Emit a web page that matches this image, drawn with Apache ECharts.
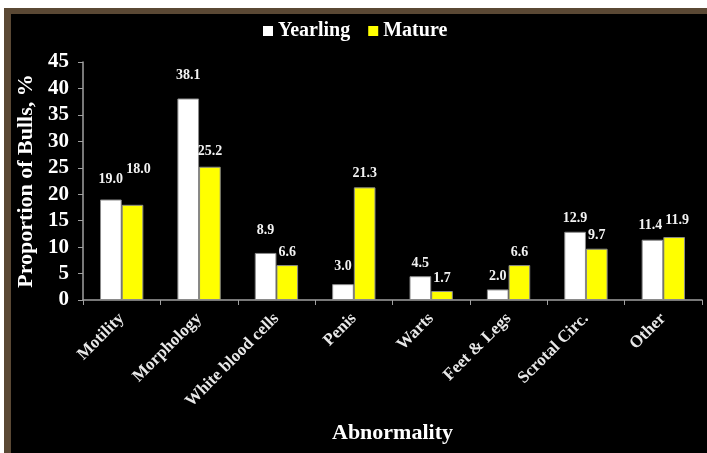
<!DOCTYPE html>
<html><head><meta charset="utf-8">
<script src="https://cdn.jsdelivr.net/npm/echarts@6/dist/echarts.min.js"></script>
<style>
html,body{margin:0;padding:0;background:#fff;}
#bg{position:absolute;left:4px;top:8px;width:703px;height:445px;background:#000;border-left:7px solid #5a4834;border-top:6px solid #5a4834;box-sizing:border-box;}
#chart{position:absolute;left:0;top:0;width:707px;height:453px;}
</style></head>
<body>
<div id="bg"></div>
<div id="chart"></div>
<script>
const categories = ['Motility','Morphology','White blood cells','Penis','Warts','Feet & Legs','Scrotal Circ.','Other'];
const yearling = [19.0, 38.1, 8.9, 3.0, 4.5, 2.0, 12.9, 11.4];
const mature = [18.0, 25.2, 6.6, 21.3, 1.7, 6.6, 9.7, 11.9];
const yTicks = [0, 5, 10, 15, 20, 25, 30, 35, 40, 45];

// label placement tweaks (style only, separate from the values)
const yearlingLabelGap = [13, 16, 16, 11, 6, 6, 6, 7];
const matureLabelGap = [28, 8, 6, 7, 6, 6, 6, 10];
const yearlingLabelShift = [0, 0, 0, 0, 0, 0, 0, -2];
const matureLabelShift = [6, 0, 0, 0, 0, 0, 0, 3];

const font = '"Liberation Serif", "DejaVu Serif", serif';
const chart = echarts.init(document.getElementById('chart'), null, {renderer:'canvas'});
const baseLabel = {show:true, position:'top', color:'#f2f2f2', fontFamily:font, fontWeight:'bold', fontSize:14,
  formatter: p => p.value.toFixed(1)};
function build(vals, gaps, shifts) {
  return vals.map((v, i) => ({value: v, label: {distance: gaps[i], offset: [shifts[i], 0]}}));
}
chart.setOption({
  backgroundColor:'transparent',
  animation:false,
  legend:{
    top:16, left:258, itemWidth:10, itemHeight:10, itemGap:18,
    icon:'rect',
    itemStyle:{borderWidth:0},
    textStyle:{color:'#fff', fontFamily:font, fontWeight:'bold', fontSize:20},
    data:['Yearling','Mature']
  },
  grid:{left:83, right:5, top:62, bottom:153},
  xAxis:{
    type:'category', data:categories,
    name:'Abnormality', nameLocation:'middle', nameGap:122,
    nameTextStyle:{color:'#fff', fontFamily:font, fontWeight:'bold', fontSize:22},
    axisLine:{lineStyle:{color:'#a0a0a0', width:1.5}},
    axisTick:{show:true, length:5, lineStyle:{color:'#a0a0a0'}},
    axisLabel:{rotate:45, color:'#e8e8e8', fontFamily:font, fontWeight:'bold', fontSize:17, margin:16, interval:0}
  },
  yAxis:{
    type:'value', min:0, max:45, interval:5,
    name:'Proportion of Bulls, %', nameLocation:'middle', nameGap:46,
    nameTextStyle:{color:'#fff', fontFamily:font, fontWeight:'bold', fontSize:22},
    axisLine:{show:true, lineStyle:{color:'#a0a0a0', width:1.5}},
    axisTick:{show:true, length:5, lineStyle:{color:'#a0a0a0'}},
    splitLine:{show:false},
    axisLabel:{color:'#fff', fontFamily:font, fontWeight:'bold', fontSize:21, margin:14,
      formatter: v => yTicks.includes(v) ? String(v) : ''}
  },
  series:[
    {name:'Yearling', type:'bar', data:build(yearling, yearlingLabelGap, yearlingLabelShift), barGap:'0%', barCategoryGap:'44%',
      itemStyle:{color:'#ffffff', borderColor:'#8a8a8a', borderWidth:1}, label:baseLabel},
    {name:'Mature', type:'bar', data:build(mature, matureLabelGap, matureLabelShift), barGap:'0%', barCategoryGap:'44%',
      itemStyle:{color:'#ffff00', borderColor:'#8a8a8a', borderWidth:1}, label:baseLabel}
  ]
});
</script>
</body></html>
